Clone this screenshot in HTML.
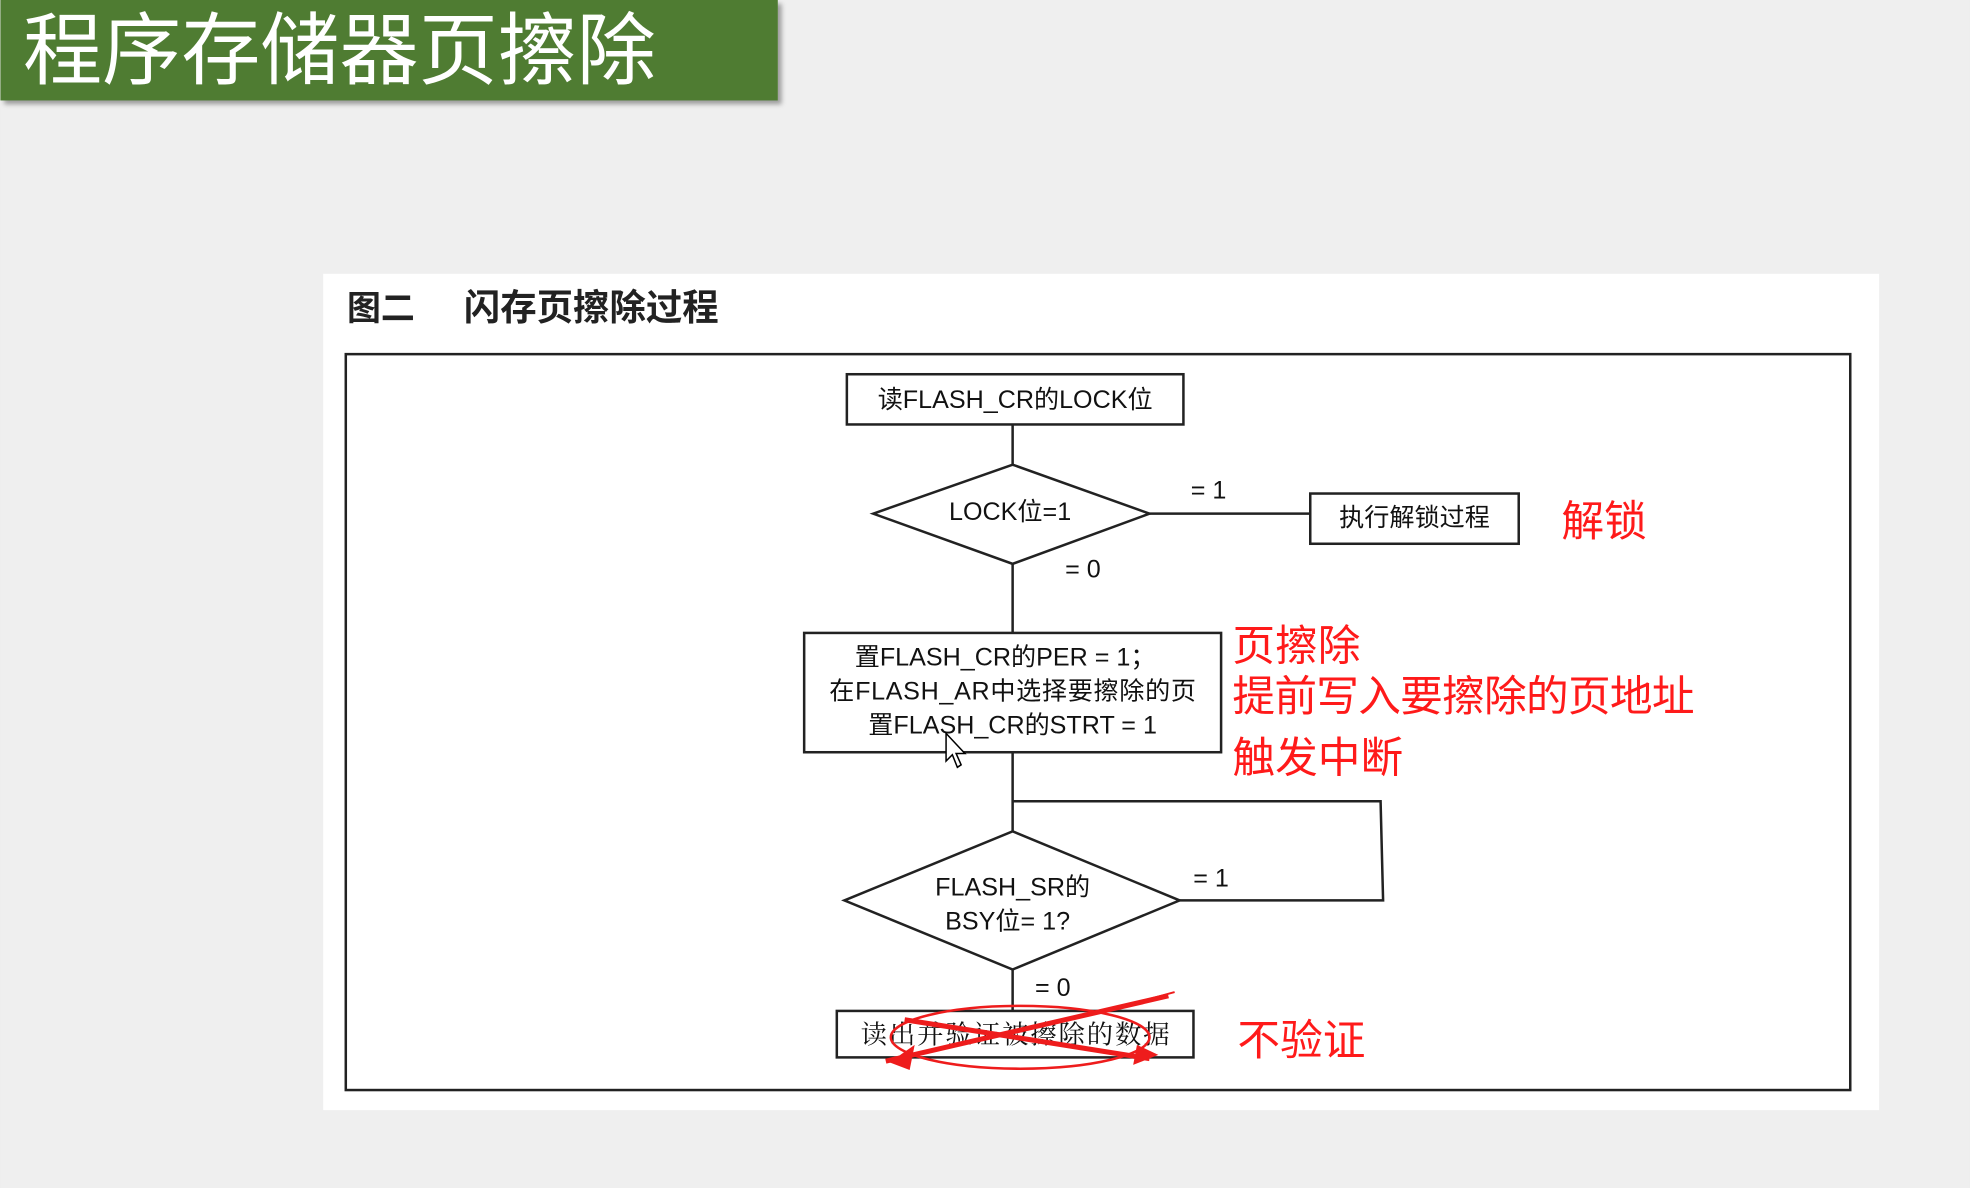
<!DOCTYPE html>
<html><head><meta charset="utf-8"><style>
html,body{margin:0;padding:0;background:#efefef;}
svg{display:block;}
</style></head><body>
<svg width="1970" height="1188" viewBox="0 0 1568 946" xmlns="http://www.w3.org/2000/svg">
<defs><filter id="sh" x="-5%" y="-10%" width="110%" height="130%"><feDropShadow dx="3" dy="3" stdDeviation="2" flood-color="#000" flood-opacity="0.35"/></filter></defs>
<rect width="1568" height="946" fill="#efefef"/>
<rect x="0" y="0" width="619" height="80" fill="#4f7c33" filter="url(#sh)"/>
<text x="18" y="62" font-family="'Liberation Sans','Noto Sans CJK SC',sans-serif" font-size="63" fill="#fff">程序存储器页擦除</text>
<rect x="257" y="218" width="1239" height="666" fill="#fff"/>
<text x="276" y="255" font-family="'Liberation Sans','Noto Sans CJK SC',sans-serif" font-size="27" font-weight="bold" fill="#222">图二</text>
<text x="369" y="255" font-family="'Liberation Sans','Noto Sans CJK SC',sans-serif" font-size="29" font-weight="bold" fill="#222">闪存页擦除过程</text>
<g fill="none" stroke="#222" stroke-width="2">
<rect x="275" y="282" width="1198" height="586"/>
<rect x="674" y="298" width="268" height="40"/>
<line x1="806" y1="338" x2="806" y2="370"/>
<polygon points="695,409 806,370 915,409 806,449"/>
<line x1="915" y1="409" x2="1043" y2="409"/>
<rect x="1043" y="393" width="166" height="40"/>
<line x1="806" y1="449" x2="806" y2="504"/>
<rect x="640" y="504" width="332" height="95"/>
<line x1="806" y1="599" x2="806" y2="662"/>
<polyline points="806,638 1099,638 1101,717 939,717"/>
<polygon points="672,717 806,662 939,717 806,772"/>
<line x1="806" y1="772" x2="806" y2="805"/>
<rect x="666" y="805" width="284" height="37"/>
</g>
<g font-family="'Liberation Sans','Noto Sans CJK SC',sans-serif" font-size="20" fill="#111" text-anchor="middle">
<text x="808" y="325">读FLASH_CR的LOCK位</text>
<text x="804" y="414">LOCK位=1</text>
<text x="962" y="397">= 1</text>
<text x="1126" y="419">执行解锁过程</text>
<text x="862" y="460">= 0</text>
<text x="800" y="530">置FLASH_CR的PER = 1；</text>
<text x="806" y="557" textLength="292">在FLASH_AR中选择要擦除的页</text>
<text x="806" y="584">置FLASH_CR的STRT = 1</text>
<text x="806" y="713">FLASH_SR的</text>
<text x="802" y="740">BSY位= 1?</text>
<text x="964" y="706">= 1</text>
<text x="838" y="793">= 0</text>
<text x="808" y="831" font-size="21" textLength="246" font-family="'Liberation Serif','Noto Serif CJK SC',serif">读出并验证被擦除的数据</text>
</g>
<g font-family="'Liberation Sans','Noto Sans CJK SC',sans-serif" font-size="34" fill="#ff1a1a">
<text x="1243" y="427">解锁</text>
<text x="981" y="526">页擦除</text>
<text x="981" y="566" textLength="368">提前写入要擦除的页地址</text>
<text x="981" y="615">触发中断</text>
<text x="985" y="840">不验证</text>
</g>
<g stroke="#ee1c1c" fill="none">
<ellipse cx="812" cy="826" rx="103" ry="25" stroke-width="2"/>
<line x1="720" y1="812" x2="915" y2="843" stroke-width="4"/>
<line x1="705" y1="845" x2="930" y2="793" stroke-width="4"/>
<line x1="880" y1="805" x2="935" y2="790" stroke-width="1.5"/>
</g>
<polygon points="708,846 728,832 724,852" fill="#ee1c1c"/>
<polygon points="922,840 905,832 902,848" fill="#ee1c1c"/>
<path d="M753,584 L753,606 L758,601 L762,611 L765,609 L761,600 L768,600 Z" fill="#fff" stroke="#000" stroke-width="1.2"/>
</svg>
</body></html>
